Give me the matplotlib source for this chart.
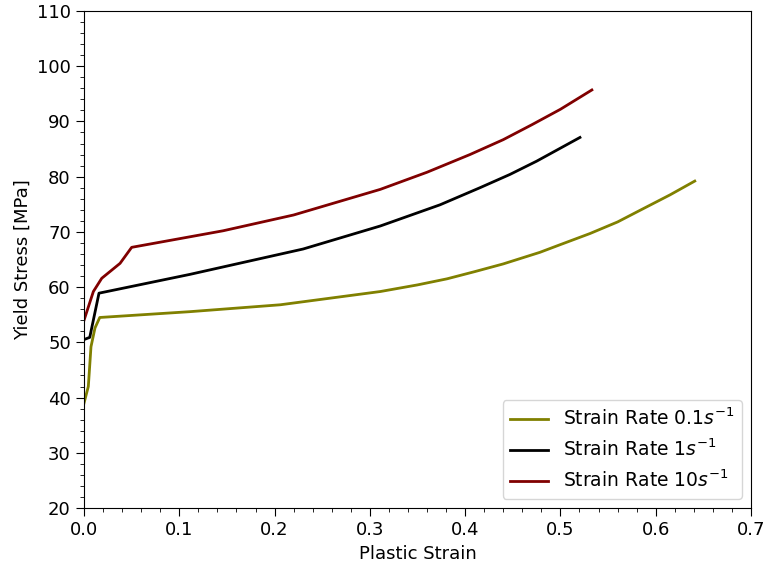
import matplotlib
matplotlib.use("Agg")
import matplotlib.pyplot as plt
from matplotlib.ticker import MultipleLocator

# Strain rate 0.1 s^-1
x_01 = [0.0, 0.0045, 0.0073, 0.0115, 0.0165, 0.111, 0.206, 0.311, 0.35, 0.381, 0.41, 0.44, 0.4785, 0.5, 0.531, 0.56, 0.5835, 0.615, 0.641]
y_01 = [39.0, 42.0, 49.2, 52.6, 54.5, 55.55, 56.8, 59.2, 60.4, 61.5, 62.8, 64.2, 66.3, 67.7, 69.7, 71.8, 73.9, 76.7, 79.2]

# Strain rate 1 s^-1
x_1 = [0.0, 0.006, 0.0157, 0.111, 0.23, 0.311, 0.3736, 0.4156, 0.447, 0.475, 0.5205]
y_1 = [50.5, 50.9, 58.9, 62.3, 66.9, 71.07, 74.9, 78.0, 80.4, 82.8, 87.1]

# Strain rate 10 s^-1
x_10 = [0.0, 0.0098, 0.0186, 0.0378, 0.05, 0.146, 0.22, 0.311, 0.36, 0.405, 0.44, 0.47, 0.5, 0.533]
y_10 = [54.0, 59.2, 61.6, 64.3, 67.2, 70.2, 73.06, 77.7, 80.8, 84.0, 86.7, 89.4, 92.2, 95.7]

labels = [r"Strain Rate 0.1$s^{-1}$", r"Strain Rate 1$s^{-1}$", r"Strain Rate 10$s^{-1}$"]
colors = ["#808000", "#000000", "#800000"]

fig = plt.figure(figsize=(7.66, 5.69), dpi=100)
ax = fig.add_axes([0.1097, 0.1072, 0.8707, 0.8735])

for xs, ys, lab, c in zip([x_01, x_1, x_10], [y_01, y_1, y_10], labels, colors):
    ax.plot(xs, ys, color=c, lw=2, label=lab)

ax.set_xlim(0, 0.7)
ax.set_ylim(20, 110)
ax.xaxis.set_major_locator(MultipleLocator(0.1))
ax.xaxis.set_minor_locator(MultipleLocator(0.02))
ax.yaxis.set_major_locator(MultipleLocator(10))
ax.yaxis.set_minor_locator(MultipleLocator(2))
ax.tick_params(axis="both", which="major", labelsize=13, length=6)
ax.tick_params(axis="both", which="minor", length=3)
ax.set_xlabel("Plastic Strain", fontsize=13)
ax.set_ylabel("Yield Stress [MPa]", fontsize=13)
ax.legend(loc="lower right", fontsize=13.5)

fig.savefig("out.png", dpi=100)
